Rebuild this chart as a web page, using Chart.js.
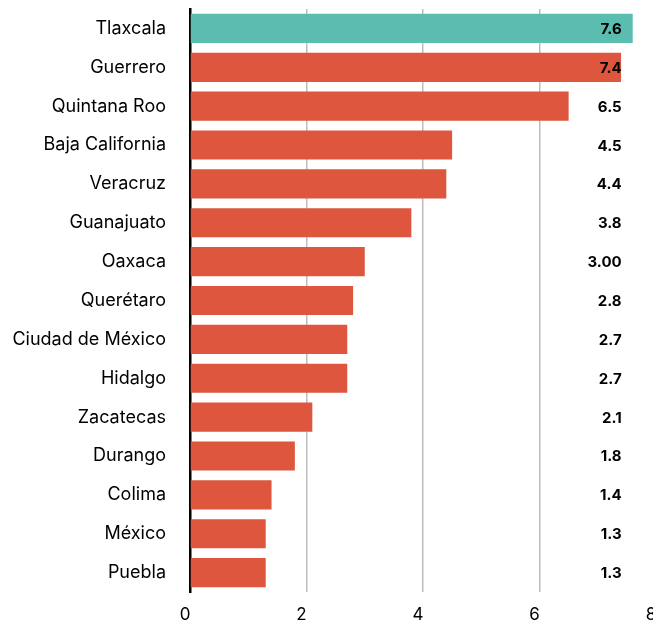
<!DOCTYPE html>
<html>
<head>
<meta charset="utf-8">
<script src="https://cdn.jsdelivr.net/npm/chart.js@4/dist/chart.umd.min.js"></script>
<style>
  html, body { margin: 0; padding: 0; background: #fff; overflow: hidden; }
  #wrap { width: 672px; height: 622px; position: relative; }
</style>
</head>
<body>
<div id="wrap"><canvas id="chart"></canvas></div>
<script>
// --- DATOS ---
const estados = ['Tlaxcala', 'Guerrero', 'Quintana Roo', 'Baja California', 'Veracruz', 'Guanajuato', 'Oaxaca', 'Querétaro', 'Ciudad de México', 'Hidalgo', 'Zacatecas', 'Durango', 'Colima', 'México', 'Puebla'];
const valores = [7.6, 7.4, 6.5, 4.5, 4.4, 3.8, 3.0, 2.8, 2.7, 2.7, 2.1, 1.8, 1.4, 1.3, 1.3];
const etiquetas = ['7.6', '7.4', '6.5', '4.5', '4.4', '3.8', '3.00', '2.8', '2.7', '2.7', '2.1', '1.8', '1.4', '1.3', '1.3'];
const ticksX = [0, 2, 4, 6, 8];

const TEAL = '#5BBDB0';
const ROJO = '#DE563E';
const FUENTE = 'Inter, "Open Sans", sans-serif';

// Etiquetas de valor a la derecha
const valorPlugin = {
    id: 'valores',
    afterDatasetsDraw(chart) {
        const ctx = chart.ctx;
        const meta = chart.getDatasetMeta(0);
        const xPos = chart.scales.x.getPixelForValue(7.41);
        ctx.save();
        ctx.font = 'bold 15px ' + FUENTE;
        ctx.fillStyle = '#000';
        ctx.textAlign = 'right';
        ctx.textBaseline = 'middle';
        meta.data.forEach((bar, i) => {
            ctx.fillText(etiquetas[i], xPos, bar.y + 1);
        });
        ctx.restore();
    }
};

new Chart(document.getElementById('chart'), {
    type: 'bar',
    data: {
        labels: estados,
        datasets: [{
            data: valores,
            backgroundColor: estados.map((e, i) => i === 0 ? TEAL : ROJO),
            borderWidth: 0,
            barPercentage: 0.75,
            categoryPercentage: 1.0
        }]
    },
    options: {
        indexAxis: 'y',
        responsive: true,
        maintainAspectRatio: false,
        animation: false,
        layout: { padding: { top: 9, right: 16, left: 0, bottom: 0 } },
        plugins: {
            legend: { display: false },
            tooltip: { enabled: false }
        },
        scales: {
            x: {
                min: 0,
                max: 8,
                afterBuildTicks: (scale) => { scale.ticks = ticksX.map(v => ({ value: v })); },
                afterFit: (scale) => {
                    scale.height = 30;
                    scale.paddingLeft = 0;
                    scale.paddingRight = 0;
                },
                grid: {
                    color: (c) => c.tick && c.tick.value === 0 ? 'rgba(0,0,0,0)' : '#BDBDBD',
                    lineWidth: 1.5,
                    drawTicks: false
                },
                border: { display: false },
                ticks: {
                    color: '#000',
                    padding: 13,
                    labelOffset: -5,
                    font: { family: FUENTE, size: 17 }
                }
            },
            y: {
                afterFit: (scale) => {
                    scale.width = 190;
                    scale.paddingTop = 0;
                    scale.paddingBottom = 0;
                },
                grid: { display: false, drawTicks: false },
                border: { display: true, color: '#000', width: 2.5 },
                ticks: {
                    color: '#000',
                    padding: 24,
                    font: { family: FUENTE, size: 18 }
                }
            }
        }
    },
    plugins: [valorPlugin]
});
</script>
</body>
</html>
